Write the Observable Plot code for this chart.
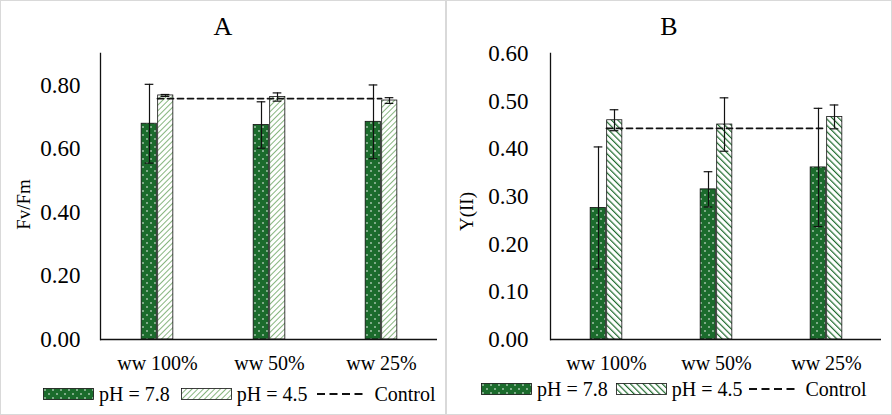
<!DOCTYPE html>
<html>
<head>
<meta charset="utf-8">
<script src="https://cdn.jsdelivr.net/npm/d3@7"></script>
<script src="https://cdn.jsdelivr.net/npm/@observablehq/plot@0.6"></script>
<style>
  body { margin: 0; background: #fff; font-family: "Liberation Serif", "Times New Roman", serif; }
  #wrap { display: flex; width: 892px; height: 415px; }
  .panel { position: relative; width: 444px; height: 413px; border: 1px solid #d9d9d9; background: #fff; }
  .title { position: absolute; left: 0; right: 0; top: 11px; text-align: center; font-size: 26px; line-height: 30px; }
  .legend { position: absolute; display: flex; align-items: center; font-size: 20px; line-height: 22px; white-space: nowrap; }
  .legend svg { display: block; }
</style>
</head>
<body>
<svg width="0" height="0" style="position:absolute">
  <defs>
    <pattern id="dots" width="8" height="8" patternUnits="userSpaceOnUse">
      <rect width="8" height="8" fill="#1b6b2c"/>
      <circle cx="2" cy="2" r="0.8" fill="#fff"/>
      <circle cx="6" cy="6" r="0.8" fill="#fff"/>
    </pattern>
    <pattern id="hatchA" width="4" height="4" patternUnits="userSpaceOnUse" patternTransform="rotate(45)">
      <rect width="4" height="4" fill="#fff"/>
      <line x1="0" y1="0" x2="0" y2="4" stroke="#6aa35f" stroke-width="1.6"/>
    </pattern>
    <pattern id="hatchB" width="4.5" height="4.5" patternUnits="userSpaceOnUse" patternTransform="rotate(-45)">
      <rect width="4.5" height="4.5" fill="#fff"/>
      <line x1="0" y1="0" x2="0" y2="4.5" stroke="#1f6b2d" stroke-width="2.4"/>
    </pattern>
  </defs>
</svg>
<div id="wrap"></div>
<script>
const categories = ["ww 100%", "ww 50%", "ww 25%"];
const seriesNames = ["pH = 7.8", "pH = 4.5"];

// panel A: Fv/Fm
const fvfmHigh = [0.679, 0.675, 0.685];
const fvfmHighErr = [0.124, 0.073, 0.116];
const fvfmLow = [0.768, 0.763, 0.752];
const fvfmLowErr = [0.003, 0.013, 0.009];
const fvfmControl = 0.758;
const fvfmTicks = [0, 0.2, 0.4, 0.6, 0.8];

// panel B: Y(II)
const yiiHigh = [0.276, 0.315, 0.361];
const yiiHighErr = [0.128, 0.037, 0.124];
const yiiLow = [0.460, 0.451, 0.467];
const yiiLowErr = [0.022, 0.056, 0.025];
const yiiControl = 0.443;
const yiiTicks = [0, 0.1, 0.2, 0.3, 0.4, 0.5, 0.6];

const serif = '"Liberation Serif", "Times New Roman", serif';

function makeChart(o) {
  const width = 444, height = 375;
  const half = (width - o.marginLeft - o.marginRight) / categories.length / 2;
  const barW = 16, cap = 4.5;
  const dark = categories.map((c, i) => ({cat: c, v: o.high[i], e: o.highErr[i]}));
  const light = categories.map((c, i) => ({cat: c, v: o.low[i], e: o.lowErr[i]}));
  const ctrl = categories.map(c => ({cat: c, v: o.control}));
  const errMarks = (data, dx) => [
    Plot.ruleX(data, {x: "cat", y1: d => d.v - d.e, y2: d => d.v + d.e, dx, stroke: "#111", strokeWidth: 1.2}),
    Plot.tickY(data, {x: "cat", y: d => d.v + d.e, insetLeft: half + dx - cap, insetRight: half - dx - cap, stroke: "#111", strokeWidth: 1.2}),
    Plot.tickY(data, {x: "cat", y: d => d.v - d.e, insetLeft: half + dx - cap, insetRight: half - dx - cap, stroke: "#111", strokeWidth: 1.2})
  ];
  return Plot.plot({
    width, height,
    marginTop: 52, marginBottom: 37, marginLeft: o.marginLeft, marginRight: o.marginRight,
    style: {fontFamily: serif, background: "transparent", color: "#000"},
    x: {domain: categories, padding: 0},
    y: {domain: o.domain},
    marks: [
      Plot.barY(dark, {x: "cat", y: "v", fill: "url(#dots)", stroke: "#111", strokeWidth: 0.8,
        insetLeft: half - barW, insetRight: half + 0.5}),
      Plot.barY(light, {x: "cat", y: "v", fill: `url(#${o.hatch})`, stroke: "#111", strokeWidth: 0.8,
        insetLeft: half + 0.5, insetRight: half - barW}),
      ...errMarks(dark, -8),
      ...errMarks(light, 8),
      Plot.line(ctrl, {x: "cat", y: "v", stroke: "#111", strokeWidth: 1.8, strokeDasharray: "6,4"}),
      Plot.ruleY([0], {stroke: "#111", strokeWidth: 1.3}),
      Plot.frame({anchor: "left", stroke: "#111", strokeWidth: 1.3}),
      Plot.axisY({ticks: o.ticks, tickFormat: d3.format(".2f"), tickSize: 0, tickPadding: o.tickPad,
        fontSize: 23, fontFamily: serif, fill: "#000", label: null}),
      Plot.axisX({tickSize: 0, tickPadding: 16, fontSize: 20, fontFamily: serif, fill: "#000", label: null}),
      Plot.text([o.label], {frameAnchor: "left", textAnchor: "middle", dx: o.labelDx, dy: o.labelDy,
        rotate: -90, fontSize: 19, fontFamily: serif, fill: "#000"})
    ]
  });
}

function swatch(fill) {
  return `<svg width="51" height="12"><rect x="0.5" y="0.5" width="50" height="11" fill="${fill}" stroke="#111" stroke-width="0.8"/></svg>`;
}

function makePanel(o) {
  const panel = d3.select("#wrap").append("div").attr("class", "panel");
  panel.append(() => makeChart(o));
  panel.append("div").attr("class", "title").text(o.title);
  const g = o.gaps;
  panel.append("div").attr("class", "legend")
    .style("left", o.legendLeft + "px").style("top", o.legendTop + "px")
    .html(
      swatch("url(#dots)") +
      `<span style="margin-left:${g[0]}px">${seriesNames[0]}</span>` +
      `<span style="margin-left:${g[1]}px">${swatch(`url(#${o.hatch})`)}</span>` +
      `<span style="margin-left:${g[2]}px">${seriesNames[1]}</span>` +
      `<svg style="margin-left:${g[3]}px" width="50" height="12"><line x1="0" y1="6" x2="50" y2="6" stroke="#111" stroke-width="1.8" stroke-dasharray="8,4.5"/></svg>` +
      `<span style="margin-left:${g[4]}px">Control</span>`
    );
}

makePanel({title: "A", label: "Fv/Fm", high: fvfmHigh, highErr: fvfmHighErr, low: fvfmLow, lowErr: fvfmLowErr,
  control: fvfmControl, domain: [0, 0.9], ticks: fvfmTicks, marginLeft: 99, marginRight: 8, hatch: "hatchA",
  tickPad: 20, labelDx: -77, labelDy: 8, legendLeft: 42, legendTop: 382, gaps: [5, 11, 5, 10, 7]});
makePanel({title: "B", label: "Y(II)", high: yiiHigh, highErr: yiiHighErr, low: yiiLow, lowErr: yiiLowErr,
  control: yiiControl, domain: [0, 0.6], ticks: yiiTicks, marginLeft: 103, marginRight: 10, hatch: "hatchB",
  tickPad: 22, labelDx: -84, labelDy: 15, legendLeft: 34, legendTop: 377, gaps: [5, 8, 5, 7, 6]});
</script>
</body>
</html>
